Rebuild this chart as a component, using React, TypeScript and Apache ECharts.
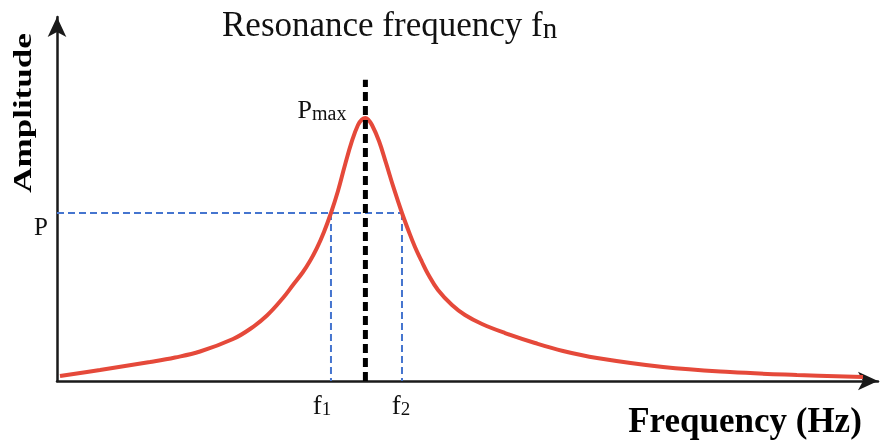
import React, { useEffect, useRef } from "react";
import * as echarts from "echarts";

// Amplitude response around resonance (frequency in arbitrary units)
const freq = [
  0.36, 5.16, 11.16, 14.16, 17.16, 21.12, 23.16, 25.19, 27.11, 28.31, 29.51,
  30.35, 31.19, 32.03, 32.87, 33.71, 34.55, 35.39, 36.11, 36.59, 37.0, 37.31,
  37.79, 38.63, 39.47, 40.43, 41.39, 42.23, 42.95, 43.79, 44.51, 45.71, 47.39,
  48.95, 50.99, 53.75, 57.35, 60.71, 64.79, 72.71, 80.74, 88.78, 96.7,
];
const amplitude = [
  1.35, 2.96, 5.12, 6.33, 7.94, 11.31, 14.0, 17.64, 22.35, 25.85, 29.35, 32.31,
  35.81, 40.12, 45.23, 51.16, 58.16, 64.62, 68.93, 70.41, 70.81, 70.41, 68.93,
  64.62, 58.7, 51.7, 45.23, 40.12, 36.08, 32.04, 28.81, 24.5, 20.46, 17.77,
  15.35, 12.92, 10.23, 8.08, 6.19, 3.77, 2.42, 1.62, 1.08,
];

const resonanceFreq = 37.0;
const lowerFreq = 32.87;
const upperFreq = 41.39;
const halfPowerLevel = 45.23;
const peakAmplitude = 70.81;
const markerTop = 81.1;

const xMax = 98.5;
const yMax = 98;

const serif = "'Liberation Serif', 'Times New Roman', serif";

export default function App() {
  const ref = useRef<HTMLDivElement>(null);

  useEffect(() => {
    if (!ref.current) return;
    const chart = echarts.init(ref.current, null, { renderer: "svg" });

    const axisCommon = {
      type: "value" as const,
      min: 0,
      axisLine: {
        show: true,
        lineStyle: { color: "#1a1a1a", width: 2.5 },
        symbol: ["none", "arrow"],
        symbolSize: [14, 20],
      },
      axisTick: { show: false },
      axisLabel: { show: false },
      splitLine: { show: false },
    };

    const blueDash = {
      color: "#4575cf",
      width: 2,
      type: [7, 4] as number[],
    };

    chart.setOption({
      animation: false,
      grid: { left: 57, right: 14, top: 17, bottom: 59 },
      xAxis: { ...axisCommon, max: xMax },
      yAxis: { ...axisCommon, max: yMax },
      series: [
        {
          type: "line",
          data: [
            [0, halfPowerLevel],
            [upperFreq, halfPowerLevel],
          ],
          symbol: "none",
          lineStyle: blueDash,
          z: 1,
        },
        {
          type: "line",
          data: [
            [lowerFreq, halfPowerLevel],
            [lowerFreq, 0],
          ],
          symbol: "none",
          lineStyle: blueDash,
          z: 1,
        },
        {
          type: "line",
          data: [
            [upperFreq, halfPowerLevel],
            [upperFreq, 0],
          ],
          symbol: "none",
          lineStyle: blueDash,
          z: 1,
        },
        {
          type: "line",
          data: freq.map((f, i) => [f, amplitude[i]]),
          smooth: 0.4,
          symbol: "none",
          lineStyle: { color: "#e5493a", width: 4 },
          z: 2,
        },
        {
          type: "line",
          data: [
            [resonanceFreq, 0],
            [resonanceFreq, markerTop],
          ],
          symbol: "none",
          lineStyle: { color: "#000", width: 5, type: [9, 5] },
          z: 3,
        },
      ],
    });

    const px = (x: number, y: number) =>
      chart.convertToPixel({ gridIndex: 0 }, [x, y]) as number[];

    const peak = px(resonanceFreq, peakAmplitude);
    const pLevel = px(0, halfPowerLevel);
    const f1 = px(lowerFreq, 0);
    const f2 = px(upperFreq, 0);

    const freqLabel = (sub: string, at: number[], dx: number) => ({
      type: "text",
      x: at[0] + dx,
      y: at[1] + 10,
      style: {
        text: `{m|f}{s|${sub}}`,
        align: "center",
        verticalAlign: "top",
        rich: {
          m: { fontFamily: serif, fontSize: 27, fill: "#111", verticalAlign: "bottom" },
          s: { fontFamily: serif, fontSize: 19, fill: "#111", verticalAlign: "bottom" },
        },
      },
    });

    chart.setOption({
      graphic: [
        {
          type: "text",
          x: 222,
          y: 7,
          style: {
            text: "{m|Resonance frequency f}{s|n}",
            align: "left",
            verticalAlign: "top",
            rich: {
              m: { fontFamily: serif, fontSize: 35, fill: "#111", verticalAlign: "bottom" },
              s: { fontFamily: serif, fontSize: 29, fill: "#111", verticalAlign: "bottom" },
            },
          },
        },
        {
          type: "text",
          x: peak[0] - 19,
          y: peak[1] + 5,
          style: {
            text: "{m|P}{s|max}",
            align: "right",
            verticalAlign: "bottom",
            rich: {
              m: { fontFamily: serif, fontSize: 26, fill: "#111", verticalAlign: "bottom" },
              s: { fontFamily: serif, fontSize: 20, fill: "#111", verticalAlign: "bottom" },
            },
          },
        },
        {
          type: "text",
          x: pLevel[0] - 9,
          y: pLevel[1] + 13,
          style: {
            text: "P",
            fontFamily: serif,
            fontSize: 25,
            fill: "#111",
            align: "right",
            verticalAlign: "middle",
          },
        },
        freqLabel("1", f1, -9),
        freqLabel("2", f2, -1),
        {
          type: "text",
          x: 745,
          y: 420,
          style: {
            text: "Frequency (Hz)",
            fontFamily: serif,
            fontWeight: "bold",
            fontSize: 35,
            fill: "#000",
            align: "center",
            verticalAlign: "middle",
          },
        },
        {
          type: "text",
          x: 22,
          y: 113,
          rotation: Math.PI / 2,
          scaleY: 0.75,
          style: {
            text: "Amplitude",
            fontFamily: serif,
            fontWeight: "bold",
            fontSize: 35,
            fill: "#000",
            align: "center",
            verticalAlign: "middle",
          },
        },
      ],
    });

    return () => chart.dispose();
  }, []);

  return (
    <div
      ref={ref}
      style={{ position: "fixed", left: 0, top: 0, width: 892, height: 440 }}
    />
  );
}
